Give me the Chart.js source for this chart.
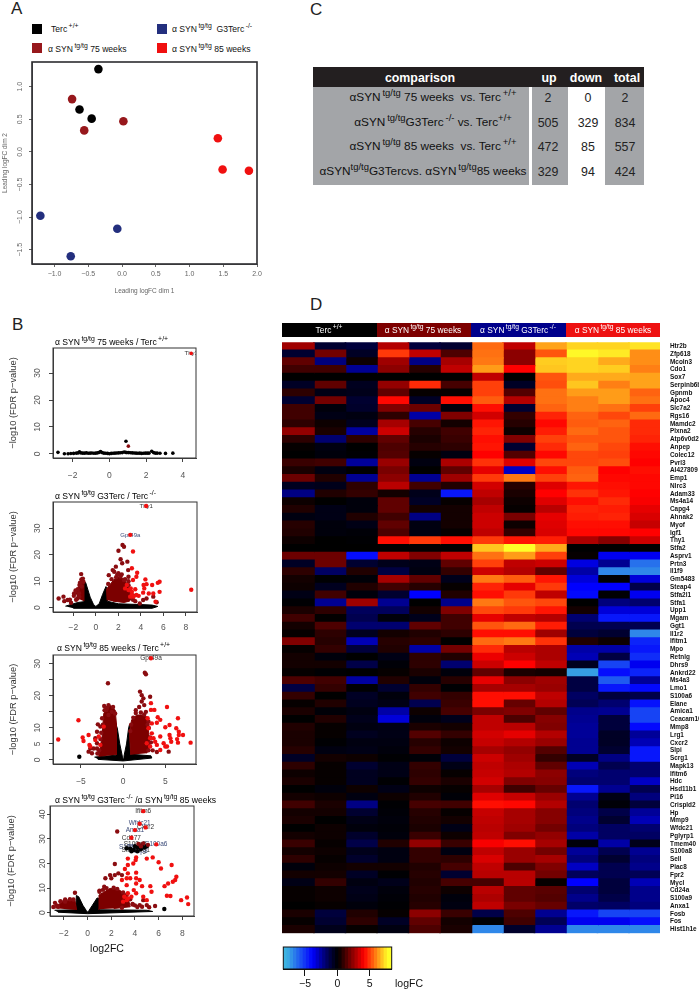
<!DOCTYPE html>
<html>
<head>
<meta charset="utf-8">
<title>Figure</title>
<script src="https://cdn.jsdelivr.net/npm/chart.js@4"></script>
<style>
  html, body { margin: 0; padding: 0; background: #fff; }
  body { position: relative; width: 699px; height: 990px; overflow: hidden; font-family: "Liberation Sans", Arial, sans-serif; color: #222; }
  canvas { position: absolute; }
  .t { position: absolute; white-space: nowrap; transform: translateY(-50%); line-height: 1; }
  .c { transform: translate(-50%, -50%); }
  .box { position: absolute; }
  sup { font-size: 80%; line-height: 0; vertical-align: 0.55em; }
</style>
</head>
<body>
<script>
// panel A, MDS plot
const mdsTerc = [[-0.35, 1.27], [-0.63, 0.65], [-0.45, 0.51]];
const mds75 = [[-0.74, 0.81], [0.02, 0.47], [-0.56, 0.33]];
const mdsG3 = [[-1.21, -0.98], [-0.07, -1.18], [-0.76, -1.6]];
const mds85 = [[1.42, 0.21], [1.49, -0.27], [1.88, -0.29]];
const mdsXTicks = [-1, -0.5, 0, 0.5, 1, 1.5, 2];
const mdsYTicks = [-1.5, -1, -0.5, 0, 0.5, 1];

// panel B, volcano plots
const v1Black = [[-2.8,.6],[-2.45,.1],[-2.25,.1],[-2.1,.15],[-1.95,.2],[-1.8,.3],[-1.7,.4],[-1.63,.8],[-1.55,.4],[-1.45,.3],[-1.35,.3],[-1.25,.4],[-1.15,.25],[-1.05,.3],[-.95,.35],[-.85,.25],[-.75,.3],[-.65,.4],[-.55,.6],[-.48,.9],[-.4,.5],[-.3,.3],[-.2,.25],[-.1,.2],[0,.1],[.1,.2],[.2,.25],[.3,.3],[.4,.35],[.5,.4],[.6,.45],[.7,.5],[.8,.7],[.88,.6],[.95,.5],[1.05,.5],[1.15,.45],[1.25,.4],[1.35,.35],[1.45,.3],[1.55,.25],[1.65,.3],[1.75,.2],[1.85,.25],[1.95,.3],[2.05,.3],[2.15,.3],[2.3,1],[2.4,.5],[2.5,.3],[2.6,.3],[2.75,.25],[3.05,.2],[3.45,.3],[.9,4.7]];
const v1Dark = [[1.03,2.9]];
const v1Red = [[4.45,37.3]];

const v2BlackArea = [[-2.7,.6],[-1.6,2],[-1.05,2.3],[-1.05,10],[-.9,9.5],[-.5,4],[-.2,1.2],[0,.5],[.3,1.5],[.6,5],[.9,8],[1,7],[1,2.5],[2,1.5],[4,1.2],[5,1],[5.5,.5],[5,-.2],[-2,-.2]];
const v2DarkLeft = [[-1.05,2.5],[-1.05,9],[-1.2,10.5],[-1.5,8],[-1.75,6],[-1.6,3.5]];
const v2DarkRight = [[1,2.8],[.95,7],[1.2,8.5],[1.6,10.5],[2,11.7],[2.4,11],[2.8,9],[3,7],[3.2,4],[3,2.5],[2.5,2],[1.5,2.5]];
const v2Dark = [[2.01,21.5],[2.37,23.7],[2.5,23],[2.2,18.3],[2.8,17.4],[2.34,16.8],[1.78,15.5],[1.5,14.2],[1.15,12.3],[1.63,13.6],[2,13],[2.87,14.2],[-1.3,12.7],[-1.28,10.7],[-1.1,9.8],[-1.45,8.6],[-1.25,8],[-1.93,5.4],[-3.3,3.5],[-2.87,4.2],[-2.8,2.5],[-2.5,2.9],[-2.2,1.9],[-1.63,3.5],[-1.48,4.2],[2.9,11.7],[2.5,10.5],[4.2,2.9],[4.5,3.5],[5.1,4.2],[5.4,2.1],[3.9,1.6],[3.5,2.5],[3.3,3],[1.1,9],[1.4,10.8],[1.8,11.5],[2.2,11.8],[2.6,10.8],[2.9,8.5],[3.1,6],[3.3,4.6],[2.9,10],[1.9,12.5],[2.3,12.6],[-1.15,11],[-1.4,9.5],[-1.6,7],[-1.8,6.5],[-1.95,4.5],[-1.75,3],[-2.3,3],[-1.5,5.5]];
const v2Red = [[3.3,21.2],[3.2,14.9],[3.67,13.2],[3.3,10.5],[3.6,11.7],[4.4,10.7],[4.5,8.9],[4.3,7.3],[4.24,8.6],[5.66,9.8],[5.5,9.4],[5,8.6],[8.47,6.8],[5.66,6],[5.1,5.4],[4.7,5.4],[4.2,5.7],[3.6,4.8],[3.35,4.2],[3.05,4.2],[2.9,6.7],[3.1,7.3],[3.2,6],[2.6,7.3],[2.75,8.6],[5.3,2.3],[3.8,4.5],[3.2,4.8],[3.5,7],[4.47,38.4],[3.06,27.5]];
const v2Labels = ['Thy1', 'Gpr49a'];
const v2LabelAt = [[4.47,38.4],[3.06,27.5]];

const v3BlackArea = [[-3.4,.9],[-.85,1.5],[-.85,11],[-.7,10],[-.4,5],[-.1,1.2],[0,.3],[.1,1.2],[.4,5],[.65,10],[.75,11],[.85,1.8],[3.3,1.3],[3.4,.6],[0,-.3],[-3,.2]];
const v3DarkLeft = [[-2.9,1],[-2.5,7.3],[-2.3,14.5],[-1.5,17],[-.95,15.6],[-.8,11.4],[-.8,1.6]];
const v3DarkRight = [[.9,1.6],[.75,8.3],[1,12.5],[1.6,14],[2.2,14],[2.8,13.5],[3,9.3],[3.2,4.2],[2.8,2.1]];
const v3Black = [[-5.2,1]];
const v3Dark = [[2.57,27.2],[2.7,26.7],[-1.8,23.9],[2,21.3],[2.2,20.2],[2.4,19.2],[3.2,19.7],[2.2,18.2],[2.5,17.1],[-2.25,16.8],[-1.74,17.1],[-2,15.6],[-1.34,15],[-1.74,14],[-3,11.1],[-2.7,10.4],[-3.1,8.8],[-3.3,6.8],[-3.1,5.2],[-3.5,3.6],[-3.9,3.6],[-4.1,2.6],[-3.1,3.6],[-3.7,2.1],[5.4,2.6],[3.5,3],[4,2.5],[1.5,15.5],[1.9,16.5],[2.7,15],[-2.6,8.5],[-2.7,6.5],[-2.85,3],[-3.05,2],[-2.4,11],[-2.5,13],[-2.2,15.5],[-1.9,16.2],[-1.2,16.5],[-.95,14.5],[.85,9],[.95,11],[1.2,13.2],[1.5,14.6],[2.1,14.8],[2.5,14.2],[3,12],[3.05,10],[3.2,7],[3.3,5.5],[3,3],[2.9,11]];
const v3Red = [[-5.3,12.4],[-7.7,6.4],[-4.8,7],[-4.7,5.9],[-4.1,7.8],[-4,4.7],[-3.9,4.2],[-3.3,6.2],[-2.3,10.4],[-2.9,7.3],[-2.7,4.7],[3.3,31.7],[5.2,16.5],[3.3,17.7],[3.3,15.6],[3.7,15.6],[4.1,13.3],[4.4,12.5],[4,11.6],[6.5,13],[5,10.2],[5.5,10.9],[6.3,9.9],[6.6,8.8],[6.6,7.8],[7.1,7.8],[6.4,6.5],[5.5,7.8],[5.6,6.8],[5.7,5.7],[8,5.4],[6.5,5.4],[4.8,5.2],[4,4.7],[4.4,7.3],[3.4,8.3],[3.6,6.8],[3.2,4.2],[2.8,5.2],[3.8,5.7],[3.2,6.8],[3,9.9],[3.4,11.4],[2.9,13],[5,4.2],[5.2,4.2],[4.4,3.1]];
const v3Labels = ['Gpr49a'];
const v3LabelAt = [[3.3,31.7]];

const v4BlackArea = [[-2.8,1],[-1,1.2],[-.95,7],[-.75,6.5],[-.4,3],[-.1,.8],[0,.2],[.1,.8],[.4,3],[.8,6],[.95,5.8],[.95,1.2],[5,1],[5.5,.5],[0,-.4],[-2.5,.2]];
const v4DarkLeft = [[-2.76,1.8],[-2.06,5.1],[-1.07,5.1],[-.93,1.1]];
const v4DarkRight = [[.9,1.4],[.96,7.2],[1.9,9.9],[2.7,9.2],[3.4,6.4],[3.6,2.4],[2.2,1.7]];
const v4Black = [[6.48,1.5],[3.6,26],[3.9,25.5],[4.2,26.5],[4.5,25.8],[4.8,26.5],[3.3,26.2],[4,27],[4.6,27.5],[3.7,25],[4.2,25],[5,27]];
const v4Dark = [[2.5,33],[2.3,19.8],[1.9,15.3],[1.5,14],[2,14],[2.3,15.3],[2.6,16],[2.9,15.3],[1.4,10.6],[1,8.5],[-1.07,8.1],[-2.76,4],[-2.5,2.4],[-1.9,4.5],[5.7,2.7],[5,3.1],[4.4,3.1],[4.7,5.1],[4,3],[3.8,3.6],[4.3,28],[4.7,28.2],[5.1,27.6],[4.5,27],[-2.9,2.3],[-2.6,3],[-2.3,4.7],[-1.9,5.4],[-1.5,5.5],[-1.2,5.4],[1,9],[1.3,9.3],[1.6,10],[2.2,10.2],[2.5,9.7],[3,8.2],[3.3,7.2],[3.6,5.5],[3.8,3.3],[4.2,2.3],[4.6,2.4],[5.2,2.2],[2.9,2]];
const v4Red = [[3.4,22],[4.1,22.5],[4.06,21.4],[3.86,20],[5,22],[5.5,22.5],[6,20.5],[6.2,18],[7.1,19.4],[3.15,17.8],[3.4,19.4],[3.4,16],[4.1,16.3],[3.3,14],[3.6,14],[4.1,14],[2.9,13.3],[7.5,14.6],[7.4,13.3],[7.2,12.6],[6.8,11.9],[6.5,10.8],[4.4,13.3],[4.1,11.9],[4.6,10.8],[3.3,11.2],[5.4,8.5],[5.3,10.8],[6.7,6.9],[7,6.8],[7.9,5.1],[8.4,6.2],[8.5,3.5],[3.4,7.9],[3.9,9.2],[4.1,7.9],[4.7,6.5],[5,5.1],[3.1,6.5],[3.3,5.1],[3,4.5],[3.4,5.8],[3.7,6.5],[4.7,41.3],[4.4,36.2],[4.9,34.7],[4,33.6],[3.7,30.5],[5.8,27.8]];
const v4Labels = ['Ifitm6', 'Wfdc21', 'Cxcr2', 'Anxa1', 'Cd177', 'S100a6', 'S100a8', 'S100a9', 'Stfa1', 'Stfa2l1', 'Lrg1', 'Mmp8'];
const v4LabelAt = [[4.7,41.3],[4.4,36.2],[4.9,34.7],[4,33.6],[3.7,30.5],[5.8,27.8],[4,28],[3.6,26.5],[3.5,25.5],[4.2,26.5],[4.7,25.5],[4.3,25]];

// panel C, table
const tableRows = [
  'αSYN<sup>&thinsp;tg/tg</sup> 75 weeks&nbsp; vs. Terc<sup>&thinsp;+/+</sup>',
  'αSYN<sup>&thinsp;tg/tg</sup>G3Terc<sup>&thinsp;-/-</sup> vs. Terc<sup>+/+</sup>',
  'αSYN<sup>&thinsp;tg/tg</sup> 85 weeks&nbsp; vs. Terc<sup>&thinsp;+/+</sup>',
  'αSYN<sup>tg/tg</sup>G3Tercvs. αSYN<sup>&thinsp;tg/tg</sup>85 weeks'
];
const tableUp = [2, 505, 472, 329];
const tableDown = [0, 329, 85, 94];
const tableTotal = [2, 834, 557, 424];

// panel D, heatmap
const genes = ['Htr2b','Zfp618','Mcoln3','Cdo1','Sox7','Serpinb6b','Gpnmb','Apoc4','Slc7a2','Rgs16','Mamdc2','Plxna2','Atp6v0d2','Anpep','Colec12','Pvrl3','AI427809','Emp1','Nlrc3','Adam33','Ms4a14','Capg4','Ahnak2','Myof','Igf1','Thy1','Stfa2','Asprv1','Prtn3','Il1f9','Gm5483','Steap4','Stfa2l1','Stfa1','Upp1','Mgam','Ggt1','Il1r2','Ifitm1','Mpo','Retnlg','Dhrs9','Ankrd22','Ms4a3','Lmo1','S100a6','Elane','Amica1','Ceacam10','Mmp8','Lrg1','Cxcr2','Slpi','Scrg1','Mapk13','Ifitm6','Hdc','Hsd11b1','Pi16','Crispld2','Hp','Mmp9','Wfdc21','Pglyrp1','Tmem40','S100a8','Sell','Plac8','Fpr2','Mycl','Cd24a','S100a9','Anxa1','Fosb','Fos','Hist1h1e'];
const logFC = [
  [2.5,-1,-1.2,2.8,-1.2,-1,5.5,3,6.3,7,7,7.2],
  [-1,1.8,-.8,4.8,3,1.2,5.6,2.2,5.2,7.5,7.3,6],
  [1.5,-2.2,.2,2.5,-2.3,2.6,5.7,2.2,6.9,7,6.4,6],
  [1,1,-2.5,2.2,.6,3,6.2,4,6.8,7,6.9,5.8],
  [0,0,0,0,0,0,3,0,5.2,6.4,6.4,6.3],
  [-.8,1.5,-.7,2.3,4.6,1.1,4.9,-.8,5.1,6.8,5.8,6.3],
  [.7,-.5,-.6,1.5,.1,.1,4.9,1.3,5.6,6.2,6.2,5.4],
  [-1,1.8,-1,4.1,-.8,4.2,5.3,2.8,5.6,5.8,6.2,5.6],
  [1,-.3,-.9,2,1.7,-.3,4.2,-1,5.4,5.8,5.6,4.9],
  [1,-.5,-.4,.7,-2.8,2,3.3,.8,4.5,5.4,5,5.5],
  [.7,.2,-.7,2.6,1.1,.3,4.3,.6,4.1,5.3,5.4,4.6],
  [2.3,.4,-2.7,3.2,.6,1,4.5,.2,4.4,5.5,5.2,4.6],
  [.7,-2,.7,1.5,.4,.9,4.2,2,4.9,5.2,5.2,4.5],
  [.1,-.4,0,1.2,.6,.7,4.3,-1,4.6,5.4,5,4.2],
  [0,-.3,-.1,1.3,.1,-.4,4,1.3,4.1,5,4.9,4.1],
  [.9,1,-2.6,2.4,-.4,2.7,4.7,3.5,5,5,5.1,4],
  [.4,-.4,0,1.9,0,1.5,3.6,-3.2,4.2,5.3,4,4.2],
  [1.7,.5,-2.5,2.2,-2.5,2.5,4.8,5.7,4.9,5.4,4.1,4.1],
  [-.7,-.6,.7,2.9,1,.5,3.3,.6,3.5,4.3,4.2,4.1],
  [-2.3,.5,.8,.3,-.6,-4.5,3,.4,4,4.7,4.3,4],
  [.2,0,-.3,1.5,-.8,.1,2.6,.2,3.5,4.2,4.6,3.9],
  [.5,-.5,-.3,1.5,.3,.3,3,.1,2.9,4.5,4.4,3.6],
  [-.4,-.5,.5,1,-2.3,.3,3.2,1.9,3.6,4.4,4.5,3.4],
  [.6,-.3,-.5,1.5,-.4,.3,3.2,.2,3.5,4.2,4.2,3.1],
  [.5,-.3,-.2,1.2,-.4,.1,3,.8,3.4,4.1,4.1,4],
  [.2,0,-.1,4.2,4.8,4.2,4.8,4.3,4.4,2.7,2.1,3.2],
  [0,0,0,0,0,0,6.8,8,6.4,0,0,0],
  [1.7,1.7,-4.3,3,2,3,5.6,6.2,4.9,.1,-3.8,-3.8],
  [-.8,1.7,-1,-.6,-.5,1.5,4.9,3,3.2,-3.6,-2.5,-6.5],
  [.7,-1.8,.5,-1.3,-.4,.8,3.2,2.8,1.5,-2.8,-7,-7],
  [.3,-.1,-.2,2.6,1.5,-.6,5.7,5.3,4.3,-3.5,-.1,-3.5],
  [.2,-.7,.5,1,.6,.1,4.5,3.6,4.8,-4,-4,-1.4],
  [-.5,1,-.3,-1,-4,.5,4.2,4.8,3,-4.2,-.1,-3.8],
  [-.1,-2.5,2.5,-2.5,0,-2.4,5.7,5.2,5,0,-2.2,-2],
  [.4,.7,-1.7,-1.7,.3,2,5,4.8,4.3,.3,-3.5,-3.5],
  [1,.05,-1.5,-.3,-.6,1,3.6,3,2.8,-2,-4.5,-4.5],
  [.3,1.2,-2,-2,1.5,1,5.2,5.5,4.4,-1.5,-1.5,-1.5],
  [.1,.7,-.7,.3,.5,.7,4.2,4.2,2.5,-1.2,-1,-7],
  [2,.6,-3,.6,.7,0,5.5,5.7,4.7,.5,.2,-4.8],
  [.1,.8,-1.2,.5,-2.8,1.8,4.6,2.9,2.7,-2.8,-2.8,-4.5],
  [.3,-.3,0,-.5,.7,.5,3.7,3.2,2.7,-3,-1.3,-5],
  [.3,.3,-1.4,-.2,.7,-2,3.2,4,3,-.7,-5.5,-3.8],
  [.1,-.1,0,.1,.4,-.3,1.5,.4,.3,-7.5,-4.3,-4.8],
  [1.2,1,-2.7,.5,-.3,.6,3.6,2.2,2.5,-1.3,-6,-2.6],
  [-1.3,.8,-.1,-1,.8,-.1,2.6,2.6,2.4,-1.3,-4.5,-4.2],
  [.8,0,-.8,-.3,1,.8,4.2,4.2,3,-1.8,-1.2,-1.4],
  [.1,.5,-.7,-.5,-1.5,.9,4.2,1.6,2.8,-1.6,-2,-4.4],
  [.4,-.2,-.4,-2.8,.2,1.1,1.9,2,1.5,-2.4,-2.5,-5.5],
  [0,.5,-.6,-3.5,-.3,-.6,3,1.2,2.1,-2.5,-1.2,-5.5],
  [.5,.1,-.4,-.5,.4,.3,3,2.9,2,-2.6,-1.2,-4.2],
  [.4,.1,-.7,-.5,1.3,.8,3.3,3.6,2.8,-2.6,-.8,-2.6],
  [.4,-.1,-.4,-.4,.6,.2,3.1,2.8,2.4,-2.5,-.8,-3],
  [.6,-.4,-.5,-.3,.8,.3,2.6,2.3,1.3,-2.5,-1,-4.5],
  [-.8,.3,.2,-.1,-.2,-1.2,3.2,2.5,.8,-.8,-2.3,-4.5],
  [.7,.1,-1,-.5,.8,-.5,3,2.7,1.5,-3,-1.5,-2],
  [.2,.1,-.7,-.5,.7,.1,3.1,2.8,2.2,-2.2,-2,-2],
  [.4,.1,-.7,-.1,.8,.4,3.3,2,2.1,-2,-2,-3.2],
  [0,-.3,.2,-.5,.2,.1,2.6,1,1.6,-4.5,-2.5,-1.5],
  [.3,.2,-.4,.2,.5,-.2,3.5,3.1,2.4,-2.5,-.5,-2.2],
  [1,.4,-2.3,-.1,1.1,1,4.2,4.1,2.8,-2,-.2,-1.2],
  [.3,.3,-1,-.2,.6,.1,3.1,2.6,2.1,-2.2,-1.4,-2.6],
  [.4,0,-.5,-.3,.5,.3,3,2.6,2.1,-2.4,-1,-3],
  [0,.2,-.3,-.2,.4,-.5,2.9,2.5,1.8,-2.2,-1.8,-2],
  [.3,.2,-.9,-.3,.9,.2,3,2,2.3,-2.8,-1.8,-1.8],
  [.9,.1,-1.4,.5,2.3,.9,3.9,4.2,2.6,-.3,-2.8,-.6],
  [.3,.2,-.6,-.4,.8,-.4,3,2.4,1.8,-2.6,-1.5,-2.5],
  [.7,.1,-.9,-.4,.8,.7,3.4,2.4,2.6,-2.2,-1,-2.2],
  [-.3,.2,.3,.3,.5,1.1,3,1.2,2,-3.2,-1.5,-2.4],
  [.3,.3,-.8,-.1,.6,-1,2.9,2.9,1.8,-1.7,-1.5,-1.6],
  [-.5,.8,-.4,-.6,.5,1.1,1.1,2.9,.1,-4,-1.2,-3],
  [.1,.2,-.6,-.3,.6,.2,2.9,1.5,1.4,-2,-1.2,-2.4],
  [.1,.2,-.5,-.2,.5,-.3,2.7,1.5,1.3,-2.4,-1.4,-2.4],
  [0,.1,-.3,-.1,.6,-.4,3,1.9,1.6,-1.9,-1.8,-2.2],
  [.4,-1.2,.5,.1,2.2,.9,-1.4,1.2,-2.5,-4.5,-5.5,-5.5],
  [.1,-1,.7,-.8,1.5,.3,-.1,1,-1.6,-3.8,-3.8,-4.3],
  [.4,-.6,.1,-.4,1.2,.4,-7,-.9,-2.5,-7,-7,-7]
];
const legendBreaks = [-8.35,-8,-7.5,-7,-6.5,-6,-5.5,-5,-4.5,-4,-3.5,-3,-2.5,-2,-1.5,-1,-.5,0,.5,1,1.5,2,2.5,3,3.5,4,4.5,5,5.5,6,6.5,7,7.5,8,8.35];
const legendTicks = [-5, 0, 5];

const BLACK = '#000000', DARK = '#7c0000', DOT = '#8a0c10', RED = '#f01010', NAVY = '#232f7e';

Chart.defaults.font.family = '"Liberation Sans", Arial, sans-serif';
Chart.defaults.animation = false;
Chart.defaults.layout.autoPadding = false;

function put(x, y, html, css, center) {
  const el = document.createElement('div');
  el.className = center ? 't c' : 't';
  el.style.left = x + 'px';
  el.style.top = y + 'px';
  el.style.cssText += css || '';
  el.innerHTML = html;
  document.body.appendChild(el);
}

function box(x, y, w, h, color) {
  const el = document.createElement('div');
  el.className = 'box';
  el.style.cssText = `left:${x}px;top:${y}px;width:${w}px;height:${h}px;background:${color}`;
  document.body.appendChild(el);
}

function addCanvas(left, top, width, height) {
  const c = document.createElement('canvas');
  c.width = width;
  c.height = height;
  c.style.left = left + 'px';
  c.style.top = top + 'px';
  c.style.width = width + 'px';
  c.style.height = height + 'px';
  document.body.appendChild(c);
  return c;
}

const xy = list => list.map(p => ({ x: p[0], y: p[1] }));
const minus = s => String(s).replace('-', '\u2212');

// the scale adds room for its end labels, the plot size here is fixed
function fixScale(s, w, h) {
  if (w) s.width = w;
  if (h) s.height = h;
  s.paddingTop = s.paddingBottom = s.paddingLeft = s.paddingRight = 0;
}

// box round the plot, the library only draws two sides
const framePlugin = {
  id: 'frame',
  afterDatasetsDraw(chart, args, opts) {
    const a = chart.chartArea, ctx = chart.ctx;
    ctx.save();
    ctx.strokeStyle = opts.color;
    ctx.lineWidth = opts.width;
    ctx.strokeRect(a.left, a.top, a.right - a.left, a.bottom - a.top);
    ctx.restore();
  }
};

// gene names next to the top points of a volcano
const namesPlugin = {
  id: 'names',
  beforeDatasetsDraw(chart, args, opts) {
    if (!opts.names) return;
    const a = chart.chartArea, ctx = chart.ctx;
    ctx.save();
    ctx.beginPath();
    ctx.rect(a.left, a.top, a.right - a.left, a.bottom - a.top);
    ctx.clip();
    ctx.font = opts.size + 'px "Liberation Sans"';
    ctx.textAlign = 'center';
    ctx.textBaseline = 'middle';
    opts.names.forEach((name, i) => {
      ctx.fillStyle = i % 2 ? '#3a4a78' : '#333';
      ctx.fillText(name, chart.scales.x.getPixelForValue(opts.at[i][0]), chart.scales.y.getPixelForValue(opts.at[i][1]));
    });
    ctx.restore();
  }
};

function axis(o) {
  return {
    type: 'linear',
    min: o.min,
    max: o.max,
    title: o.title ? { display: true, text: o.title, color: o.titleColor, font: { size: o.titleSize }, padding: o.titlePad } : { display: false },
    border: { color: o.line, width: 1 },
    grid: { drawOnChartArea: false, drawTicks: true, tickLength: o.tickLen, tickColor: o.line },
    afterBuildTicks: s => { s.ticks = o.ticks.map(v => ({ value: v })); },
    afterFit: s => fixScale(s, o.w, o.h),
    ticks: {
      autoSkip: false,
      maxRotation: o.rot,
      minRotation: o.rot,
      padding: o.pad,
      color: o.color,
      crossAlign: o.rot ? 'center' : 'near',
      font: { size: o.size },
      callback: o.fmt
    }
  };
}

// panel A
function drawMds() {
  const c = addCanvas(0, 56, 262, 245);
  const sets = [[mdsTerc, BLACK], [mds75, '#97181c'], [mdsG3, NAVY], [mds85, RED]];
  new Chart(c, {
    type: 'scatter',
    data: { datasets: sets.map(s => ({ data: xy(s[0]), backgroundColor: s[1], pointRadius: 4.3, borderWidth: 0 })) },
    options: {
      responsive: false,
      layout: { padding: { top: 6, right: 5 } },
      plugins: { legend: { display: false }, tooltip: { enabled: false }, frame: { color: '#2c2c30', width: 1.6 } },
      scales: {
        x: axis({ min: -1.334, max: 2, ticks: mdsXTicks, fmt: v => minus(v.toFixed(1)), h: 37, tickLen: 3, pad: 3, size: 7, color: '#666', line: '#666', rot: 0, title: 'Leading logFC dim 1', titleColor: '#666', titleSize: 6.5, titlePad: { top: 0, bottom: 6 } }),
        y: axis({ min: -1.72, max: 1.379, ticks: mdsYTicks, fmt: v => minus(v.toFixed(1)), w: 32, tickLen: 3, pad: 2, size: 7, color: '#666', line: '#666', rot: 90, title: 'Leading logFC dim 2', titleColor: '#666', titleSize: 6.5, titlePad: { top: 1, bottom: 0 } })
      }
    },
    plugins: [framePlugin]
  });
}

// panel B
function drawVolcano(o) {
  const c = addCanvas(0, o.top - 5, o.right + 6, o.bottom - o.top + 5 + o.under);
  const area = (list, color) => ({ data: xy(list), showLine: true, fill: 'shape', tension: 0, pointRadius: 0, borderWidth: 1, borderColor: color, backgroundColor: color });
  const dots = (list, color) => ({ data: xy(list), backgroundColor: color, pointRadius: o.r, borderWidth: 0 });
  const datasets = [dots(o.red, RED), dots(o.dark, DOT)];
  if (o.darkLeft) datasets.push(area(o.darkLeft, DARK), area(o.darkRight, DARK));
  if (o.black) datasets.push(dots(o.black, BLACK));
  if (o.blackArea) datasets.push(area(o.blackArea, BLACK));
  new Chart(c, {
    type: 'scatter',
    data: { datasets },
    options: {
      responsive: false,
      layout: { padding: { top: 5, right: 6 } },
      plugins: { legend: { display: false }, tooltip: { enabled: false }, frame: { color: '#333', width: 1 }, names: { names: o.names, at: o.at, size: o.nameSize } },
      scales: {
        x: axis({ min: o.xMin, max: o.xMax, ticks: o.xTicks, fmt: v => minus(v), h: o.under, tickLen: 4, pad: o.xPad, size: 8.5, color: '#555', line: '#444', rot: 0 }),
        y: axis({ min: o.yMin, max: o.yMax, ticks: o.yTicks, fmt: v => (o.yHide && o.yHide.includes(v)) ? '' : v, w: o.left, tickLen: o.yLen, pad: o.yPad, size: 8.5, color: '#555', line: '#444', rot: 90, title: '\u2212log10 (FDR p\u2212value)', titleColor: '#333', titleSize: 9.3, titlePad: { top: o.titleX, bottom: 0 } })
      }
    },
    plugins: [framePlugin, namesPlugin]
  });
}

// panel D
function heatColor(v) {
  const lerp = (a, b, t) => Math.round(a + (b - a) * t);
  if (v >= 0) {
    if (v <= 4) return `rgb(${lerp(0, 255, v / 4)},0,0)`;
    const t = Math.min(1, (v - 4) / 3.6);
    return `rgb(255,${lerp(0, 255, t)},${lerp(0, 40, t)})`;
  }
  const a = -v;
  if (a <= 4) return `rgb(0,0,${lerp(0, 255, Math.pow(a / 4, 1.2))})`;
  const t = Math.min(1, (a - 4) / 4);
  return `rgb(${lerp(0, 62, t)},${lerp(0, 180, t)},${lerp(255, 225, t)})`;
}

function drawHeatmap() {
  const c = addCanvas(282, 342, 417, 592);
  const datasets = logFC[0].map((_, col) => ({
    data: logFC.map(() => [col, col + 1.03]),
    backgroundColor: logFC.map(row => heatColor(row[col])),
    borderWidth: 0,
    grouped: false,
    barThickness: 8.2
  }));
  new Chart(c, {
    type: 'bar',
    data: { labels: genes, datasets },
    options: {
      indexAxis: 'y',
      responsive: false,
      layout: { padding: { top: 0.3, bottom: 0.7 } },
      plugins: { legend: { display: false }, tooltip: { enabled: false } },
      scales: {
        x: { type: 'linear', display: false, min: 0, max: 12 },
        y: {
          position: 'right',
          border: { display: false },
          grid: { display: false, drawTicks: false },
          afterFit: s => fixScale(s, 39),
          ticks: { autoSkip: false, padding: 10, color: '#111', font: { size: 6.4, weight: 'bold' } }
        }
      }
    }
  });
}

function drawColorbar() {
  const c = addCanvas(280, 944, 116, 46);
  const datasets = legendBreaks.slice(0, -1).map((b, i) => ({
    data: [[b, legendBreaks[i + 1] + 0.1]],
    backgroundColor: heatColor((b + legendBreaks[i + 1]) / 2),
    borderWidth: 0,
    grouped: false,
    barPercentage: 1,
    categoryPercentage: 1
  }));
  new Chart(c, {
    type: 'bar',
    data: { labels: ['logFC'], datasets },
    options: {
      indexAxis: 'y',
      responsive: false,
      layout: { padding: { top: 3, left: 3.3, right: 4.3 } },
      plugins: { legend: { display: false }, tooltip: { enabled: false }, frame: { color: '#111', width: 1 } },
      scales: {
        x: axis({ min: -8.35, max: 8.4, ticks: legendTicks, fmt: v => minus(v), h: 21, tickLen: 7, pad: 2, size: 10.5, color: '#111', line: '#111', rot: 0 }),
        y: { display: false }
      }
    },
    plugins: [framePlugin]
  });
}

drawMds();

drawVolcano({
  top: 348, bottom: 458, left: 53, right: 196, under: 30, xMin: -3.07, xMax: 4.71, yMin: -1.5, yMax: 39.3,
  xTicks: [-2, 0, 2, 4], yTicks: [0, 10, 20, 30], xPad: 9, yLen: 4, yPad: 7, titleX: 8.3, r: 1.8,
  black: v1Black, dark: v1Dark, red: v1Red, names: ['Thy1'], at: [[4.45, 37.3]], nameSize: 6
});
drawVolcano({
  top: 502, bottom: 612, left: 53, right: 197, under: 28, xMin: -3.8, xMax: 8.98, yMin: -1.6, yMax: 39.9,
  xTicks: [-2, 0, 2, 4, 6, 8], yTicks: [0, 10, 20, 30], xPad: 7, yLen: 4, yPad: 7, titleX: 8.3, r: 2.2,
  blackArea: v2BlackArea, darkLeft: v2DarkLeft, darkRight: v2DarkRight, dark: v2Dark, red: v2Red,
  names: v2Labels, at: v2LabelAt, nameSize: 6
});
drawVolcano({
  top: 655, bottom: 764, left: 53, right: 196, under: 30, xMin: -8.32, xMax: 8.64, yMin: -1.25, yMax: 32.7,
  xTicks: [-5, 0, 5], yTicks: [0, 5, 10, 15, 20, 25, 30], yHide: [15, 25], xPad: 9, yLen: 4, yPad: 7, titleX: 8.3, r: 2.2,
  blackArea: v3BlackArea, black: v3Black, darkLeft: v3DarkLeft, darkRight: v3DarkRight, dark: v3Dark, red: v3Red,
  names: v3Labels, at: v3LabelAt, nameSize: 6.5
});
drawVolcano({
  top: 806, bottom: 916, left: 50, right: 194, under: 30, xMin: -3.18, xMax: 8.99, yMin: -1.34, yMax: 43.4,
  xTicks: [-2, 0, 2, 4, 6, 8], yTicks: [0, 10, 20, 30, 40], xPad: 9, yLen: 3, yPad: 0, titleX: 6.3, r: 2.2,
  blackArea: v4BlackArea, black: v4Black, darkLeft: v4DarkLeft, darkRight: v4DarkRight, dark: v4Dark, red: v4Red,
  names: v4Labels, at: v4LabelAt, nameSize: 6.5
});

drawHeatmap();
drawColorbar();

// panel letters
put(11, 8, 'A', 'font-size:17px');
put(12, 324, 'B', 'font-size:17px');
put(310, 9, 'C', 'font-size:17px');
put(310, 304, 'D', 'font-size:17px');

// legend of panel A
box(32, 24, 10, 10, BLACK);
box(32, 43, 10, 10, '#97181c');
box(157, 24, 10, 10, NAVY);
box(157, 43, 10, 10, RED);
const legendCss = 'font-size:8.6px;color:#111';
put(51, 29, 'Terc<sup>&thinsp;+/+</sup>', legendCss);
put(48, 49, 'α SYN<sup>&thinsp;tg/tg</sup> 75 weeks', legendCss);
put(172, 29, 'α SYN<sup>&thinsp;tg/tg</sup>&nbsp; G3Terc<sup>&thinsp;-/-</sup>', legendCss);
put(172, 49, 'α SYN<sup>&thinsp;tg/tg</sup> 85 weeks', legendCss);

// titles of panel B
const titleCss = 'font-size:8.6px;color:#000';
put(55, 342, 'α SYN<sup>&thinsp;tg/tg</sup> 75 weeks / Terc<sup>&thinsp;+/+</sup>', titleCss);
put(55, 496, 'α SYN<sup>&thinsp;tg/tg</sup> G3Terc / Terc<sup>&thinsp;-/-</sup>', titleCss);
put(57, 648, 'α SYN<sup>&thinsp;tg/tg</sup> 85 weeks / Terc<sup>&thinsp;+/+</sup>', titleCss);
put(55, 800, 'α SYN<sup>&thinsp;tg/tg</sup> G3Terc<sup>&thinsp;-/-</sup> /α SYN<sup>&thinsp;tg/tg</sup> 85 weeks', titleCss);
put(107, 948, 'log2FC', 'font-size:10.5px;color:#111', true);

// panel C table
box(313, 67, 331, 20, '#231f20');
box(313, 87, 216, 98, '#a3a5a8');
box(532, 87, 36, 98, '#a3a5a8');
box(605, 87, 39, 98, '#a3a5a8');
const headCss = 'font-size:12.4px;font-weight:bold;color:#fff';
put(420, 77.5, 'comparison', headCss, true);
put(549, 77.5, 'up', headCss, true);
put(586, 77.5, 'down', headCss, true);
put(627, 77.5, 'total', headCss, true);
const rowY = [98, 123, 147, 172];
tableRows.forEach((row, i) => {
  put(i === 3 ? 423 : 433, rowY[i], row, 'font-size:11.8px;color:#111', true);
  put(548, rowY[i], tableUp[i], 'font-size:12.4px;color:#222', true);
  put(588, rowY[i], tableDown[i], 'font-size:12.4px;color:#222', true);
  put(625, rowY[i], tableTotal[i], 'font-size:12.4px;color:#222', true);
});

// header strip of panel D
box(282, 323, 95, 14, '#000');
box(377, 323, 94, 14, '#7d0000');
box(471, 323, 95, 14, '#00008b');
box(566, 323, 94, 14, '#ee1111');
const stripCss = 'font-size:8.4px;color:#fff';
put(329, 330, 'Terc<sup>&thinsp;+/+</sup>', stripCss, true);
put(423, 330, 'α SYN<sup>&thinsp;tg/tg</sup> 75 weeks', stripCss, true);
put(518, 330, 'α SYN<sup>&thinsp;tg/tg</sup> G3Terc<sup>&thinsp;-/-</sup>', stripCss, true);
put(613, 330, 'α SYN<sup>&thinsp;tg/tg</sup> 85 weeks', stripCss, true);
put(395, 983, 'logFC', 'font-size:10.5px;color:#111');
</script>
</body>
</html>
